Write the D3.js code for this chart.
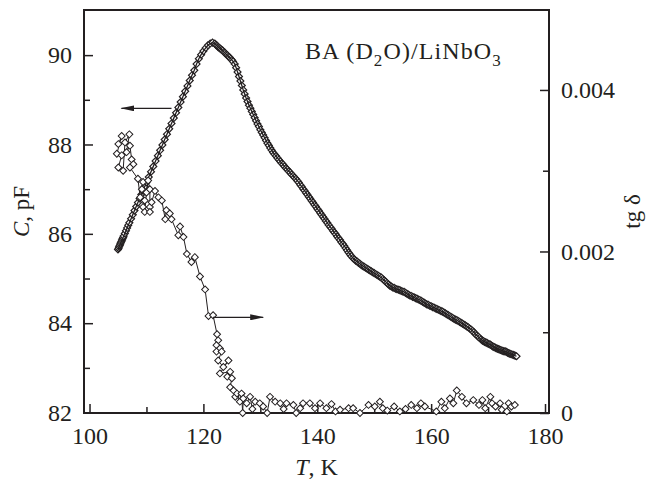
<!DOCTYPE html>
<html>
<head>
<meta charset="utf-8">
<script src="https://cdn.jsdelivr.net/npm/d3@7"></script>
<style>
  body { margin: 0; background: #fff; }
  svg text { font-family: "Liberation Serif", "Times New Roman", serif; fill: #231f20; }
</style>
</head>
<body>
<div id="chart"></div>
<script>
// capacitance C (pF) vs temperature T (K), left axis
var capT = [105.0, 105.1, 105.2, 105.3, 105.4, 105.5, 105.6, 105.7, 105.8, 105.9, 106.0, 106.2, 106.4, 106.6, 106.8,
  107.0, 107.3, 107.6, 107.9, 108.2, 108.5, 108.8, 109.1, 109.4, 109.7, 110.0, 110.4, 110.8, 111.2, 111.6, 112.0,
  112.4, 112.8, 113.2, 113.6, 114.0, 114.4, 114.8, 115.2, 115.6, 116.0, 116.4, 116.8, 117.2, 117.6, 118.0, 118.4,
  118.8, 119.2, 119.6, 120.0, 120.4, 120.8, 121.2, 121.6, 122.0, 122.2, 122.4, 122.6, 122.8, 123.0, 123.2, 123.4,
  123.6, 123.8, 124.0, 124.2, 124.4, 124.6, 124.8, 125.0, 125.2,
  125.50, 125.75, 126.00, 126.25, 126.50, 126.75, 127.00, 127.25, 127.50, 127.75, 128.00, 128.25, 128.50, 128.75,
  129.00, 129.25, 129.50, 129.75, 130.00, 130.25, 130.50, 130.75, 131.00, 131.25, 131.50, 131.75, 132.00, 132.25,
  132.50, 132.75, 133.00, 133.25, 133.50, 133.75, 134.00, 134.25, 134.50, 134.75, 135.00, 135.25, 135.50, 135.75,
  136.00, 136.25, 136.50, 136.75, 137.00, 137.25, 137.50, 137.75, 138.00, 138.25, 138.50, 138.75, 139.00, 139.25,
  139.50, 139.75, 140.00, 140.25, 140.50, 140.75, 141.00, 141.25, 141.50, 141.75, 142.00, 142.25, 142.50, 142.75,
  143.00, 143.25, 143.50, 143.75, 144.00, 144.25, 144.50, 144.75, 145.00, 145.25, 145.50, 145.75, 146.00, 146.25,
  146.50, 146.75, 147.00, 147.25, 147.50, 147.75, 148.00, 148.25, 148.50, 148.75, 149.00, 149.25, 149.50, 149.75,
  150.00, 150.25, 150.50, 150.75, 151.00, 151.25, 151.50, 151.75, 152.00, 152.25, 152.50, 152.75, 153.00, 153.25,
  153.50, 153.75, 154.00, 154.25, 154.50, 154.75, 155.00, 155.25, 155.50, 155.75, 156.00, 156.25, 156.50, 156.75,
  157.00, 157.25, 157.50, 157.75, 158.00, 158.25, 158.50, 158.75, 159.00, 159.25, 159.50, 159.75, 160.00, 160.25,
  160.50, 160.75, 161.00, 161.25, 161.50, 161.75, 162.00, 162.25, 162.50, 162.75, 163.00, 163.25, 163.50, 163.75,
  164.00, 164.25, 164.50, 164.75, 165.00, 165.25, 165.50, 165.75, 166.00, 166.25, 166.50, 166.75, 167.00, 167.25,
  167.50, 167.75, 168.00, 168.25, 168.50, 168.75, 169.00,
  169.2, 169.4, 169.6, 169.8, 170.0, 170.2, 170.4, 170.6, 170.8, 171.0, 171.2, 171.4, 171.6, 171.8, 172.0,
  172.2, 172.4, 172.6, 172.8, 173.0, 173.2, 173.4, 173.6, 173.8, 174.0, 174.2, 174.4, 174.6, 174.8, 175.0];
var capC = [85.65, 85.68, 85.71, 85.74, 85.77, 85.80, 85.83, 85.86, 85.89, 85.92, 85.95, 86.01, 86.07, 86.13, 86.19,
  86.25, 86.34, 86.43, 86.52, 86.61, 86.70, 86.79, 86.88, 86.97, 87.06, 87.15, 87.27, 87.39, 87.51, 87.63, 87.75,
  87.87, 87.99, 88.11, 88.23, 88.35, 88.47, 88.59, 88.71, 88.83, 88.95, 89.07, 89.19, 89.31, 89.43, 89.55, 89.66,
  89.80, 89.92, 90.01, 90.09, 90.16, 90.22, 90.26, 90.28, 90.26, 90.23, 90.21, 90.18, 90.16, 90.14, 90.12, 90.10,
  90.07, 90.05, 90.02, 90.00, 89.97, 89.95, 89.92, 89.89, 89.86,
  89.80, 89.72, 89.62, 89.52, 89.42, 89.32, 89.22, 89.13, 89.04, 88.96, 88.88, 88.81, 88.74, 88.67,
  88.60, 88.53, 88.46, 88.40, 88.33, 88.27, 88.21, 88.15, 88.09, 88.03, 87.98, 87.92, 87.87, 87.82,
  87.78, 87.74, 87.70, 87.66, 87.62, 87.58, 87.55, 87.51, 87.47, 87.44, 87.40, 87.37, 87.33, 87.30,
  87.26, 87.23, 87.19, 87.15, 87.10, 87.06, 87.01, 86.97, 86.92, 86.88, 86.83, 86.79, 86.74, 86.70,
  86.65, 86.61, 86.56, 86.52, 86.47, 86.43, 86.38, 86.34, 86.29, 86.25, 86.20, 86.16, 86.12, 86.07,
  86.03, 85.99, 85.94, 85.90, 85.86, 85.81, 85.77, 85.73, 85.68, 85.63, 85.58, 85.54, 85.50, 85.46,
  85.43, 85.40, 85.38, 85.35, 85.33, 85.30, 85.28, 85.26, 85.24, 85.22, 85.20, 85.18, 85.16, 85.14,
  85.12, 85.10, 85.08, 85.06, 85.04, 85.02, 84.99, 84.96, 84.93, 84.90, 84.87, 84.84, 84.82, 84.80,
  84.79, 84.77, 84.76, 84.75, 84.74, 84.72, 84.71, 84.70, 84.68, 84.66, 84.64, 84.62, 84.61, 84.59,
  84.58, 84.56, 84.55, 84.53, 84.52, 84.50, 84.48, 84.46, 84.44, 84.42, 84.41, 84.39, 84.38, 84.36,
  84.35, 84.33, 84.32, 84.30, 84.29, 84.27, 84.26, 84.24, 84.22, 84.20, 84.18, 84.16, 84.14, 84.12,
  84.10, 84.08, 84.07, 84.05, 84.03, 84.01, 83.99, 83.97, 83.95, 83.93, 83.91, 83.88, 83.86, 83.83,
  83.80, 83.76, 83.73, 83.70, 83.67, 83.64, 83.61,
  83.60, 83.58, 83.57, 83.56, 83.54, 83.53, 83.52, 83.50, 83.48, 83.47, 83.46, 83.44, 83.43, 83.42, 83.41,
  83.40, 83.39, 83.38, 83.37, 83.37, 83.36, 83.34, 83.33, 83.32, 83.31, 83.30, 83.29, 83.28, 83.27, 83.26];

// loss tangent tg delta vs T, right axis
var lossT = [105.06, 105.65, 104.8, 105.65, 105.06, 105.9, 106.23, 107.0, 106.5, 107.1, 107.4, 107.7, 107.1, 108.5,
  108.9, 109.2, 109.4, 109.4, 109.7, 109.7, 110.0, 110.3, 110.6, 110.6, 110.6, 110.9, 111.5, 112.1, 112.7, 113.3,
  113.5, 114.1, 114.4, 115.6, 115.9, 116.5, 117.1, 117.9, 118.5, 119.4, 120.3, 120.9, 121.7, 122.4, 122.6, 122.3,
  122.9, 122.3, 123.2, 122.6, 123.5, 124.4, 122.9, 124.7, 124.2, 125.0, 124.7, 125.3, 125.6, 125.9, 126.4, 126.7,
  126.9, 127.0, 127.6, 128.2, 128.6, 129.1, 129.9, 130.5, 131.2, 131.7, 132.6, 133.5, 134.1, 134.6, 135.8, 136.3,
  137.0, 137.5, 138.7, 139.6, 140.5, 141.6, 142.5, 143.2, 144.0, 145.5, 146.3, 147.5, 149.0, 150.1, 151.0, 151.5,
  152.3, 153.5, 154.5, 155.5, 156.5, 157.5, 158.2, 158.9, 160.9, 161.8, 162.4, 163.3, 163.9, 164.5, 165.4, 166.2,
  167.4, 168.4, 169.0, 169.5, 170.4, 170.7, 171.3, 172.1, 172.4, 173.3, 173.6, 174.1, 174.7];
var lossV = [0.00333, 0.00343, 0.00321, 0.00319, 0.00304, 0.00300, 0.00335, 0.00345, 0.00323, 0.00331, 0.00314, 0.00308, 0.00304, 0.00290,
  0.00267, 0.00277, 0.00286, 0.00255, 0.00263, 0.00249, 0.00273, 0.00288, 0.00277, 0.00255, 0.00249, 0.00261, 0.00275, 0.00267, 0.00263, 0.00240,
  0.00251, 0.00247, 0.00240, 0.00220, 0.00231, 0.00218, 0.00197, 0.00187, 0.00193, 0.00169, 0.00153, 0.00120, 0.00121, 0.000975, 0.00090, 0.00084,
  0.00080, 0.00076, 0.00076, 0.00065, 0.00057, 0.00065, 0.00049, 0.00051, 0.00045, 0.00043, 0.00032, 0.00028, 0.00020, 0.00024, 0.00014, 0.00024,
  0.00000, 0.00018, 0.00012, 0.00020, 0.00005, 0.00014, 0.00012, 0.00008, 0.00000, 0.00020, 0.00014, 0.00012, 0.00005, 0.00012, 0.00010, 0.00000,
  0.00006, 0.00012, 0.00012, 0.00006, 0.00012, 0.00006, 0.00011, 0.00002, 0.00004, 0.00006, 0.00006, 0.00000, 0.00010, 0.00008, 0.00014, 0.00006,
  0.00003, 0.00008, 0.00002, 0.00005, 0.00010, 0.00006, 0.00012, 0.00008, 0.00002, 0.00014, 0.00006, 0.00018, 0.00012, 0.00028, 0.00020, 0.00012,
  0.00016, 0.00010, 0.00016, 0.00006, 0.00020, 0.00012, 0.00008, 0.00012, 0.00004, 0.00002, 0.00012, 0.00008, 0.00010];

var xMajor = [100, 120, 140, 160, 180];
var xMinor = [110, 130, 150, 170];
var cMajor = [82, 84, 86, 88, 90];
var cMinor = [83, 85, 87, 89];
var lossMajor = [0, 0.002, 0.004];
var lossMinor = [0.001, 0.003];
var lossLabels = ["0", "0.002", "0.004"];

// arrows pointing each curve to its axis
var arrowC = { from: 114.4, to: 105.6, at: 88.81 };
var arrowLoss = { from: 121.7, to: 130.5, at: 0.001185 };

var width = 648, height = 480;
var padL = 84, padR = 549, padT = 10, padB = 413;
var ink = "#231f20";

var svg = d3.select("#chart").append("svg")
    .attr("width", width)
    .attr("height", height);

var x = d3.scaleLinear().domain([99.03, 180.7]).range([padL, padR]);
var yC = d3.scaleLinear().domain([81.99, 91.01]).range([padB, padT]);
var yL = d3.scaleLinear().domain([0, 0.00499]).range([padB, padT]);

// ticks (inward)
function styleAxis(g) {
    g.select(".domain").remove();
    g.selectAll(".tick line").attr("stroke", ink).attr("stroke-width", 1.5);
    g.selectAll(".tick text").style("font-size", "24px").attr("fill", ink);
}
svg.append("g").attr("transform", "translate(0," + padB + ")")
    .call(d3.axisBottom(x).tickValues(xMajor).tickSize(-9).tickPadding(14).tickFormat(d3.format("d")))
    .call(styleAxis);
svg.append("g").attr("transform", "translate(0," + padB + ")")
    .call(d3.axisBottom(x).tickValues(xMinor).tickSize(-6).tickFormat(""))
    .call(styleAxis);
svg.append("g").attr("transform", "translate(" + padL + ",0)")
    .call(d3.axisLeft(yC).tickValues(cMajor).tickSize(-9).tickPadding(12).tickFormat(d3.format("d")))
    .call(styleAxis);
svg.append("g").attr("transform", "translate(" + padL + ",0)")
    .call(d3.axisLeft(yC).tickValues(cMinor).tickSize(-6).tickFormat(""))
    .call(styleAxis);
svg.append("g").attr("transform", "translate(" + padR + ",0)")
    .call(d3.axisRight(yL).tickValues(lossMajor).tickSize(-9).tickPadding(12).tickFormat((d, i) => lossLabels[i]))
    .call(styleAxis);
svg.append("g").attr("transform", "translate(" + padR + ",0)")
    .call(d3.axisRight(yL).tickValues(lossMinor).tickSize(-6).tickFormat(""))
    .call(styleAxis);

// frame
svg.append("rect")
    .attr("x", padL).attr("y", padT)
    .attr("width", padR - padL).attr("height", padB - padT)
    .attr("fill", "none").attr("stroke", ink).attr("stroke-width", 2);

var diamond = d3.symbol().type(d3.symbolSquare).size(24);

// capacitance curve: markers, thin trace over them
var capData = capT.map((t, i) => [t, capC[i]]);
svg.append("g").selectAll("path")
    .data(capData)
    .join("path")
    .attr("d", diamond)
    .attr("transform", d => "translate(" + x(d[0]) + "," + yC(d[1]) + ") rotate(45)")
    .attr("fill", "#fff").attr("stroke", ink).attr("stroke-width", 1.2);
svg.append("path")
    .datum(capData)
    .attr("d", d3.line().x(d => x(d[0])).y(d => yC(d[1])))
    .attr("fill", "none").attr("stroke", ink).attr("stroke-width", 1.3);

// loss tangent curve
var lossData = lossT.map((t, i) => [t, lossV[i]]);
svg.append("path")
    .datum(lossData)
    .attr("d", d3.line().x(d => x(d[0])).y(d => yL(d[1])))
    .attr("fill", "none").attr("stroke", ink).attr("stroke-width", 1);
svg.append("g").selectAll("path")
    .data(lossData)
    .join("path")
    .attr("d", diamond)
    .attr("transform", d => "translate(" + x(d[0]) + "," + yL(d[1]) + ") rotate(45)")
    .attr("fill", "#fff").attr("stroke", ink).attr("stroke-width", 1);

// arrows
svg.append("defs").append("marker")
    .attr("id", "head")
    .attr("viewBox", "0 0 14 6")
    .attr("refX", 13).attr("refY", 3)
    .attr("markerWidth", 14).attr("markerHeight", 6)
    .attr("markerUnits", "userSpaceOnUse")
    .attr("orient", "auto")
  .append("path")
    .attr("d", "M0,0 L14,3 L0,6 Z")
    .attr("fill", ink);

svg.append("line")
    .attr("x1", x(arrowC.from)).attr("y1", yC(arrowC.at))
    .attr("x2", x(arrowC.to)).attr("y2", yC(arrowC.at))
    .attr("stroke", ink).attr("stroke-width", 1.2)
    .attr("marker-end", "url(#head)");
svg.append("line")
    .attr("x1", x(arrowLoss.from)).attr("y1", yL(arrowLoss.at))
    .attr("x2", x(arrowLoss.to)).attr("y2", yL(arrowLoss.at))
    .attr("stroke", ink).attr("stroke-width", 1.2)
    .attr("marker-end", "url(#head)");

// sample label
var label = svg.append("text")
    .attr("x", 305).attr("y", 59)
    .style("font-size", "24px")
    .style("letter-spacing", "1.1px");
label.append("tspan").text("BA (D");
label.append("tspan").attr("dy", 7).style("font-size", "17px").text("2");
label.append("tspan").attr("dy", -7).text("O)/LiNbO");
label.append("tspan").attr("dy", 7).style("font-size", "17px").text("3");

// axis titles
var xt = svg.append("text")
    .attr("x", (padL + padR) / 2).attr("y", 475)
    .attr("text-anchor", "middle")
    .style("font-size", "24px");
xt.append("tspan").style("font-style", "italic").text("T");
xt.append("tspan").text(", K");

var yt = svg.append("text")
    .attr("transform", "translate(29," + (padT + padB) / 2 + ") rotate(-90)")
    .attr("text-anchor", "middle")
    .style("font-size", "23px");
yt.append("tspan").style("font-style", "italic").text("C");
yt.append("tspan").text(", pF");

svg.append("text")
    .attr("transform", "translate(640," + (padT + padB) / 2 + ") rotate(-90)")
    .attr("text-anchor", "middle")
    .style("font-size", "23px")
    .text("tg δ");
</script>
</body>
</html>
